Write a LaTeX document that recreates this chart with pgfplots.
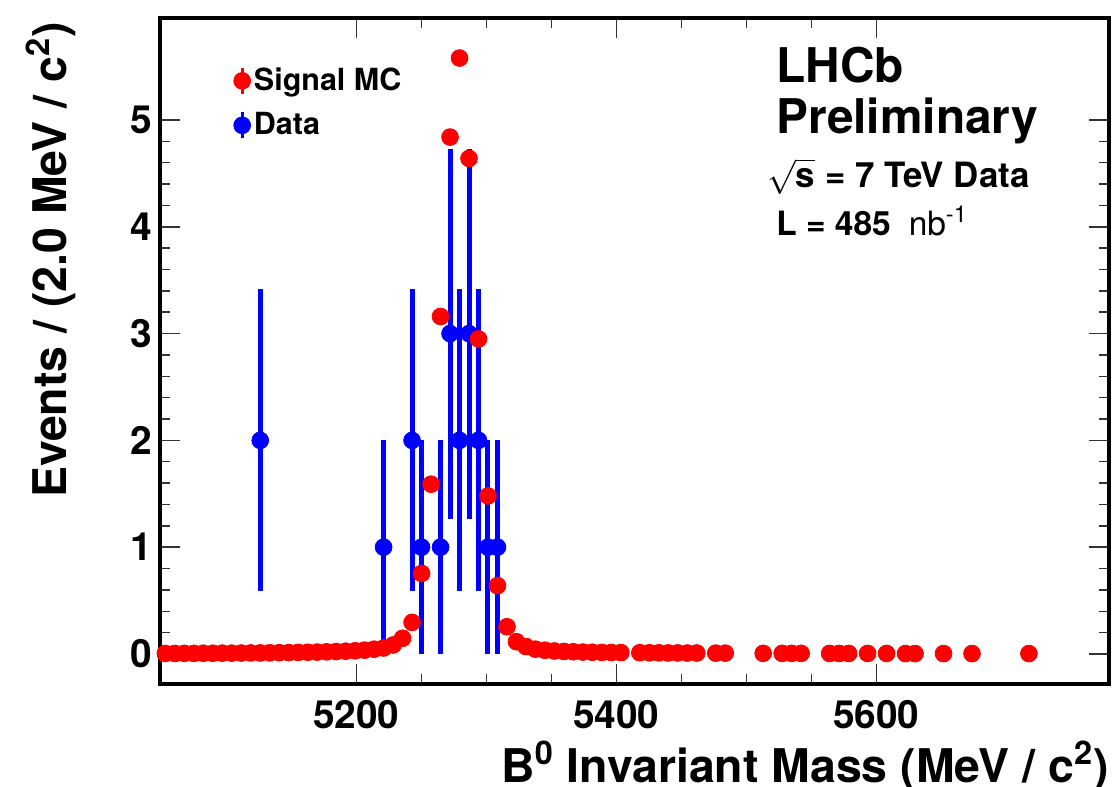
\documentclass[border=0pt]{standalone}
\usepackage{fontspec}
\setmainfont{TeX Gyre Heros}
\usepackage{graphicx}
\usepackage{pgfplots}
\pgfplotsset{compat=1.18}
\usepackage{pgfplotstable}

\pgfplotstableread{
x y
5053.1 0.005
5060.4 0.005
5067.7 0.006
5075.0 0.006
5082.3 0.007
5089.6 0.007
5096.9 0.008
5104.2 0.008
5111.5 0.009
5118.8 0.010
5126.1 0.010
5133.4 0.011
5140.7 0.012
5148.0 0.013
5155.3 0.015
5162.6 0.016
5169.9 0.018
5177.2 0.020
5184.5 0.023
5191.8 0.026
5199.1 0.030
5206.4 0.036
5213.7 0.045
5221.0 0.056
5228.3 0.084
5235.6 0.147
5242.9 0.296
5250.2 0.754
5257.5 1.59
5264.8 3.16
5272.1 4.84
5279.4 5.58
5286.7 4.64
5294.0 2.95
5301.3 1.48
5308.6 0.64
5315.9 0.255
5323.2 0.115
5330.5 0.070
5337.8 0.045
5345.1 0.035
5352.4 0.028
5359.7 0.024
5367.0 0.021
5374.3 0.018
5381.6 0.016
5388.9 0.015
5396.2 0.014
5403.5 0.013
5418.1 0.012
5425.4 0.011
5432.7 0.011
5440.0 0.010
5447.3 0.010
5454.6 0.009
5461.9 0.009
5476.5 0.008
5483.8 0.008
5513.0 0.006
5527.6 0.006
5534.9 0.006
5542.2 0.006
5564.1 0.005
5571.4 0.005
5578.7 0.005
5593.3 0.005
5607.9 0.005
5622.5 0.004
5629.8 0.004
5651.7 0.004
5673.6 0.004
5717.4 0.004
}\mcdata

\pgfplotstableread{
x y e
5126.1 2 1.414
5221.0 1 1
5242.9 2 1.414
5250.2 1 1
5264.8 1 1
5272.1 3 1.732
5279.4 2 1.414
5286.7 3 1.732
5294.0 2 1.414
5301.3 1 1
5308.6 1 1
}\datatab

\definecolor{mcred}{RGB}{255,0,0}
\definecolor{datablue}{RGB}{0,0,255}

\begin{document}
\begin{tikzpicture}
\path[use as bounding box] (-80bp,-51.5bp) rectangle (477.5bp,342bp);
\begin{axis}[
  scale only axis,
  width=474.5bp, height=333bp,
  xmin=5049, xmax=5779,
  ymin=-0.281, ymax=5.955,
  xtick={5200,5400,5600},
  minor x tick num=3,
  ytick={0,1,2,3,4,5},
  minor y tick num=4,
  tick align=inside,
  axis line style={line width=2.2bp, black},
  major tick length=10bp,
  minor tick length=5bp,
  tick style={line width=0.75bp, black!80},
  tick label style={font=\fontsize{19.5}{20}\selectfont\bfseries},
  xticklabel style={anchor=base, yshift=-22bp},
  yticklabel style={anchor=east, inner sep=0pt, xshift=-3.5bp},
  /pgf/number format/.cd, set thousands separator={}, assume math mode=true,
  /pgfplots/.cd,
  xlabel={B\textsuperscript{0} Invariant Mass (MeV / c\textsuperscript{2})},
  ylabel={Events / (2.0 MeV / c\textsuperscript{2})},
  label style={font=\fontsize{23.3}{24}\selectfont\bfseries},
  xlabel style={at={(rel axis cs:1,0)}, anchor=base east, yshift=-49bp, inner sep=0pt},
  ylabel style={at={(rel axis cs:0,0.994)}, anchor=base east, yshift=46.5bp, inner sep=0pt},
  legend style={at={(rel axis cs:0.0769,0.93)}, anchor=north west, draw=none, fill=none,
    font=\fontsize{15.3}{15.3}\selectfont\bfseries, row sep=6.5bp, inner sep=0pt,
    nodes={inner sep=1.5bp},
    /tikz/every even column/.append style={column sep=0bp}},
  legend cell align=left,
]
\addlegendimage{legend image code/.code={\draw[mcred, line width=1.5bp] (4.2bp,-6.5bp)--(4.2bp,6.5bp); \fill[mcred] (4.2bp,0bp) circle (4.2bp);}}
\addlegendentry{Signal MC}
\addlegendimage{legend image code/.code={\draw[datablue, line width=1.5bp] (4.2bp,-6.5bp)--(4.2bp,6.5bp); \fill[datablue] (4.2bp,0bp) circle (4.2bp);}}
\addlegendentry{Data}

\addplot[forget plot, only marks, mark=*, mark size=4.2bp, color=datablue,
  error bars/.cd, y dir=both, y explicit, error mark=none,
  error bar style={line width=2.5bp, datablue}]
  table[x=x, y=y, y error=e]{\datatab};
\addplot[forget plot, only marks, mark=*, mark size=4.2bp, color=mcred]
  table[x=x, y=y]{\mcdata};

\node[anchor=base west, inner sep=0pt, font=\fontsize{24}{24}\selectfont\bfseries] at (rel axis cs:0.649,0.9024) {LHCb};
\node[anchor=base west, inner sep=0pt, font=\fontsize{24}{24}\selectfont\bfseries] at (rel axis cs:0.649,0.827) {Preliminary};
\node[anchor=base west, inner sep=0pt, font=\fontsize{17.5}{18}\selectfont\bfseries] at (rel axis cs:0.6395,0.745) {\(\sqrt{\hbox{\bfseries s}}\) = 7 TeV Data};
\node[anchor=base west, inner sep=0pt, font=\fontsize{16.8}{17}\selectfont] at (rel axis cs:0.649,0.674) {{\bfseries L = 485}\hspace{9bp}{\mdseries nb\textsuperscript{-1}}};
\end{axis}
\end{tikzpicture}
\end{document}
